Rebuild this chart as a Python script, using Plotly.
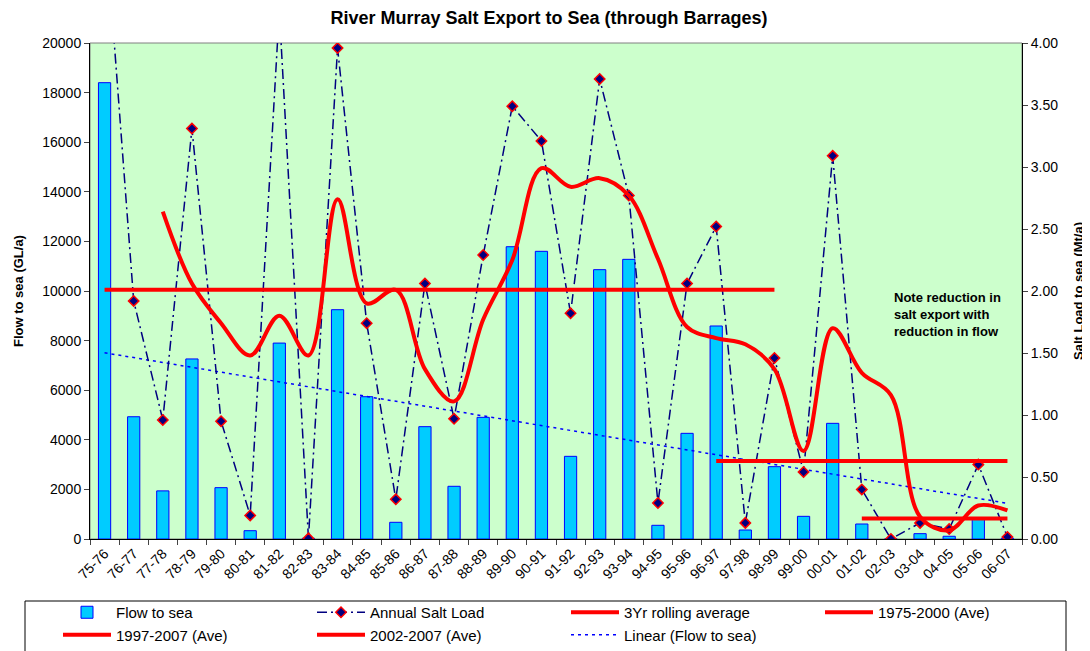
import plotly.graph_objects as go

# ---------------- data ----------------
years = ["75-76", "76-77", "77-78", "78-79", "79-80", "80-81", "81-82", "82-83",
         "83-84", "84-85", "85-86", "86-87", "87-88", "88-89", "89-90", "90-91",
         "91-92", "92-93", "93-94", "94-95", "95-96", "96-97", "97-98", "98-99",
         "99-00", "00-01", "01-02", "02-03", "03-04", "04-05", "05-06", "06-07"]

# Flow to sea (GL/a), left axis
flow = [18400, 4930, 1940, 7260, 2070, 335, 7900, 30,
        9246, 5738, 673, 4530, 2125, 4906, 11786, 11600,
        3333, 10860, 11277, 552, 4261, 8589, 363, 2917,
        914, 4664, 605, 10, 215, 110, 850, 30]

# Annual salt load (Mt/a), right axis
salt = [5.04, 1.92, 0.96, 3.31, 0.95, 0.19, 4.26, 0.005,
        3.96, 1.74, 0.32, 2.06, 0.97, 2.29, 3.49, 3.21,
        1.82, 3.71, 2.77, 0.29, 2.06, 2.52, 0.13, 1.46,
        0.54, 3.09, 0.40, 0.0, 0.13, 0.08, 0.60, 0.016]

# 3 year rolling average (Mt/a), right axis
rolling = [None, None, 2.64, 2.06, 1.74, 1.48, 1.80, 1.48,
           2.74, 1.90, 2.01, 1.37, 1.11, 1.77, 2.25, 2.99,
           2.84, 2.91, 2.77, 2.26, 1.71, 1.62, 1.57, 1.37,
           0.71, 1.70, 1.34, 1.16, 0.18, 0.07, 0.27, 0.23]

# period averages (Mt/a), right axis
ave_labels = ["1975-2000 (Ave)", "1997-2007 (Ave)", "2002-2007 (Ave)"]
ave_values = [2.01, 0.63, 0.165]
ave_from = ["75-76", "96-97", "01-02"]
ave_to = ["98-99", "06-07", "06-07"]

# linear trend of flow (GL/a), left axis
trend_years = ["75-76", "06-07"]
trend_flow = [7510, 1440]

# ---------------- geometry ----------------
# the page body adds an 8px offset; the figure is sized so that it fills
# the window from (8, 8) to (1090, 651)
OFF = 8
W, H = 1090 - OFF, 651 - OFF
PL, PR, PT, PB = 90, 1022, 43, 539          # plot area in window pixels
L, R, T, B = PL - OFF, 1090 - PR, PT - OFF, 651 - PB
PW, PH = PR - PL, PB - PT


def px_x(x):
    return (x - PL) / PW


def px_y(y):
    return (PB - y) / PH


fig = go.Figure()

fig.add_trace(go.Bar(
    x=years, y=flow, name="Flow to sea", yaxis="y",
    marker=dict(color="#00CCFF", line=dict(color="#0000FF", width=1)),
))

fig.add_trace(go.Scatter(
    x=years, y=salt, name="Annual Salt Load", yaxis="y2", mode="lines+markers",
    line=dict(color="#000080", width=1.5, dash="10px,4px,2px,4px"),
    marker=dict(symbol="diamond", size=8, color="#000080",
                line=dict(color="#FF0000", width=1.5)),
))

fig.add_trace(go.Scatter(
    x=years, y=rolling, name="3Yr rolling average", yaxis="y2", mode="lines",
    line=dict(color="#FF0000", width=4, shape="spline", smoothing=1),
))

for lab, val, a, b in zip(ave_labels, ave_values, ave_from, ave_to):
    fig.add_trace(go.Scatter(
        x=[a, b], y=[val, val], name=lab, yaxis="y2", mode="lines",
        line=dict(color="#FF0000", width=4),
    ))

fig.add_trace(go.Scatter(
    x=trend_years, y=trend_flow, name="Linear (Flow to sea)", yaxis="y", mode="lines",
    line=dict(color="#0000FF", width=1.5, dash="3px,4px"),
))

fig.update_layout(
    width=W, height=H,
    margin=dict(l=L, r=R, t=T, b=B, autoexpand=False),
    paper_bgcolor="white", plot_bgcolor="#CCFFCC",
    bargap=0.58,
    font=dict(family="Liberation Sans, Arial, sans-serif", size=14, color="black"),
    title=dict(text="<b>River Murray Salt Export to Sea (through Barrages)</b>",
               x=(549 - OFF) / W, xref="container", xanchor="center",
               y=1 - (18 - OFF) / H, yref="container", yanchor="middle",
               font=dict(size=18)),
    xaxis=dict(type="category", tickangle=-45, ticks="outside", ticklen=5,
               tickson="boundaries", showline=True, linecolor="black", linewidth=1,
               showgrid=False, tickfont=dict(size=14), range=[-0.5, 31.5]),
    yaxis=dict(range=[0, 20000], dtick=2000, tick0=0, tickformat="d",
               ticks="outside", ticklen=5,
               showline=True, linecolor="black", showgrid=False, zeroline=False,
               tickfont=dict(size=14)),
    yaxis2=dict(range=[0, 4], dtick=0.5, tick0=0, tickformat=".2f", overlaying="y",
                side="right", ticks="outside", ticklen=5, showline=True,
                linecolor="black", showgrid=False, zeroline=False,
                tickfont=dict(size=14)),
    legend=dict(orientation="h", x=px_x(58), xanchor="left",
                y=px_y(596), yanchor="top", itemwidth=48,
                entrywidth=191, entrywidthmode="pixels",
                font=dict(size=15), bgcolor="rgba(0,0,0,0)", borderwidth=0,
                traceorder="normal"),
    showlegend=True,
)

# plot area border (grey) and legend box
fig.add_shape(type="rect", xref="paper", yref="paper", x0=0, x1=1, y0=0, y1=1,
              line=dict(color="#808080", width=1), layer="below")
fig.add_shape(type="rect", xref="paper", yref="paper",
              x0=px_x(25), x1=px_x(1066), y0=px_y(601), y1=px_y(662),
              line=dict(color="black", width=1))

# axis titles
fig.add_annotation(text="<b>Flow to sea (GL/a)</b>", xref="paper", yref="paper",
                   x=px_x(18), y=0.5, textangle=-90, showarrow=False,
                   font=dict(size=13), xanchor="center", yanchor="middle")
fig.add_annotation(text="<b>Salt Load to sea (Mt/a)</b>", xref="paper", yref="paper",
                   x=px_x(1078), y=0.5, textangle=-90, showarrow=False,
                   font=dict(size=13), xanchor="center", yanchor="middle")

# note
fig.add_annotation(text="<b>Note reduction in<br>salt export with<br>reduction in flow</b>",
                   xref="paper", yref="paper", x=px_x(892), y=px_y(314),
                   xanchor="left", yanchor="middle", align="left", showarrow=False,
                   font=dict(size=13))

fig.write_html("out.html")
